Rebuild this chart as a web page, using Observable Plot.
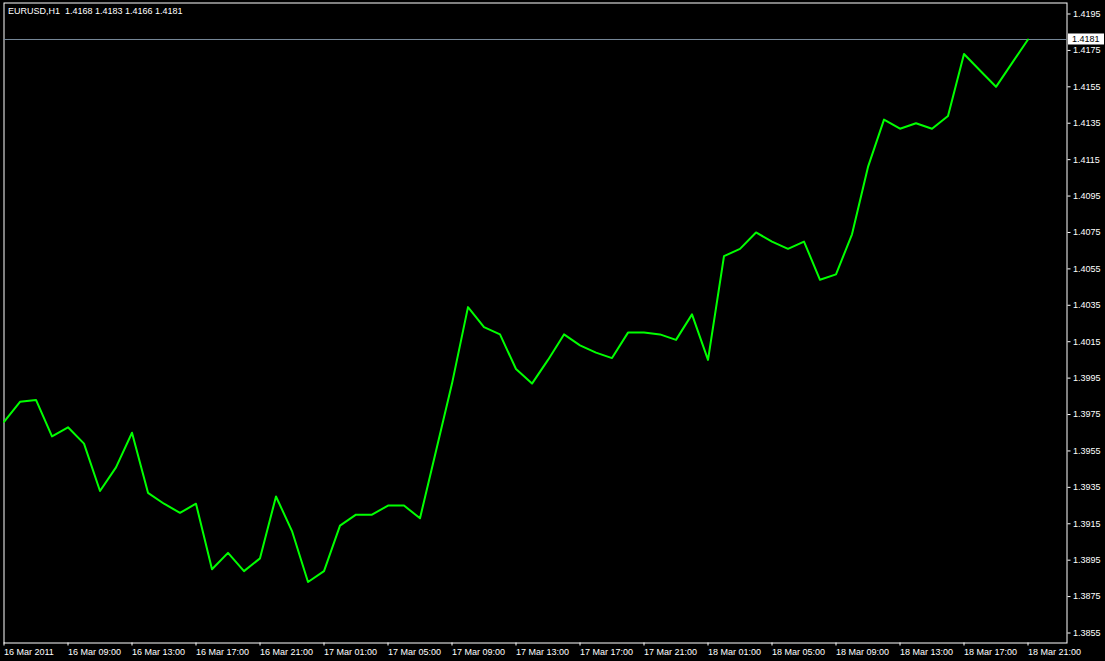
<!DOCTYPE html>
<html>
<head>
<meta charset="utf-8">
<script src="https://cdn.jsdelivr.net/npm/d3@7"></script>
<script src="https://cdn.jsdelivr.net/npm/@observablehq/plot@0.6"></script>
<style>
  html, body { margin: 0; padding: 0; background: #000; }
  #chart { width: 1105px; height: 661px; }
</style>
</head>
<body>
<div id="chart"></div>
<script>
// ---- data ----
const symbol = "EURUSD";
const period = "H1";
const ohlc = [1.4168, 1.4183, 1.4166, 1.4181];

// hourly closes, 16 Mar 2011 05:00 .. 18 Mar 2011 21:00
const prices = [
  1.3971, 1.3982, 1.3983, 1.3963, 1.3968, 1.3959, 1.3933, 1.3946, 1.3965, 1.3932,
  1.3926, 1.3921, 1.3926, 1.3890, 1.3899, 1.3889, 1.3896, 1.3930, 1.3911, 1.3883,
  1.3889, 1.3914, 1.3920, 1.3920, 1.3925, 1.3925, 1.3918, 1.3955, 1.3992, 1.4034,
  1.4023, 1.4019, 1.4000, 1.3992, 1.4005, 1.4019, 1.4013, 1.4009, 1.4006, 1.4020,
  1.4020, 1.4019, 1.4016, 1.4030, 1.4005, 1.4062, 1.4066, 1.4075, 1.4070, 1.4066,
  1.4070, 1.4049, 1.4052, 1.4074, 1.4111, 1.4137, 1.4132, 1.4135, 1.4132, 1.4139,
  1.4173, 1.4164, 1.4155, 1.4168, 1.4181
];

const xTickBars = [0, 4, 8, 12, 16, 20, 24, 28, 32, 36, 40, 44, 48, 52, 56, 60, 64];
const xTickLabels = [
  "16 Mar 2011", "16 Mar 09:00", "16 Mar 13:00", "16 Mar 17:00", "16 Mar 21:00",
  "17 Mar 01:00", "17 Mar 05:00", "17 Mar 09:00", "17 Mar 13:00", "17 Mar 17:00",
  "17 Mar 21:00", "18 Mar 01:00", "18 Mar 05:00", "18 Mar 09:00", "18 Mar 13:00",
  "18 Mar 17:00", "18 Mar 21:00"
];
const yTicks = [
  1.3855, 1.3875, 1.3895, 1.3915, 1.3935, 1.3955, 1.3975, 1.3995, 1.4015,
  1.4035, 1.4055, 1.4075, 1.4095, 1.4115, 1.4135, 1.4155, 1.4175, 1.4195
];

// ---- build ----
const data = prices.map((p, i) => ({bar: i, price: p}));
const lastPrice = prices[prices.length - 1];
const fmt = d3.format(".4f");
const titleText = `${symbol},${period}  ${ohlc.map(fmt).join(" ")}`;

function priceTag(index, scales, values, dims) {
  const yv = scales.y(lastPrice);
  const x0 = dims.width - dims.marginRight + 1.5;
  const g = d3.create("svg:g");
  g.append("rect")
    .attr("x", x0).attr("y", yv - 5.5)
    .attr("width", 36).attr("height", 11)
    .attr("fill", "#ffffff");
  g.append("text")
    .attr("x", x0 + 4).attr("y", yv)
    .attr("dy", "0.35em")
    .attr("text-anchor", "start")
    .attr("fill", "#000000")
    .attr("font-size", 9)
    .text(fmt(lastPrice));
  return g.node();
}

const chart = Plot.plot({
  width: 1105,
  height: 661,
  marginLeft: 3.5,
  marginRight: 38.5,
  marginTop: 2.5,
  marginBottom: 18.5,
  style: {
    background: "#000000",
    color: "#ffffff",
    fontFamily: "'Liberation Sans', Arial, sans-serif",
    fontSize: "9px"
  },
  x: {domain: [0, 66.4375], axis: null, label: null},
  y: {domain: [1.384951, 1.420104], axis: null, label: null},
  marks: [
    Plot.frame({stroke: "#ffffff"}),
    Plot.ruleY([lastPrice], {stroke: "#778899"}),
    Plot.line(data, {x: "bar", y: "price", stroke: "#00ff00", strokeWidth: 2}),
    Plot.axisY(yTicks, {
      anchor: "right", tickSize: 3, tickPadding: 3, label: null,
      tickFormat: fmt, stroke: "#ffffff", fill: "#ffffff"
    }),
    Plot.axisX(xTickBars, {
      anchor: "bottom", tickSize: 3, tickPadding: 3, label: null,
      textAnchor: "start",
      tickFormat: d => xTickLabels[xTickBars.indexOf(d)],
      stroke: "#ffffff", fill: "#ffffff"
    }),
    Plot.text([titleText], {
      text: d => d, frameAnchor: "top-left", textAnchor: "start",
      lineAnchor: "middle", dx: 4, dy: 8.5, fill: "#ffffff"
    }),
    priceTag
  ]
});
document.getElementById("chart").appendChild(chart);
</script>
</body>
</html>
